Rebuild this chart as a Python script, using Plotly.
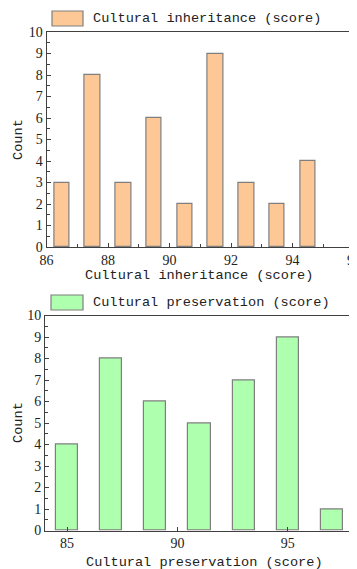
import plotly.graph_objects as go

# Data
inherit_centers = [86.5, 87.5, 88.5, 89.5, 90.5, 91.5, 92.5, 93.5, 94.5]
inherit_counts = [3, 8, 3, 6, 2, 9, 3, 2, 4]
preserve_centers = [85, 87, 89, 91, 93, 95, 97]
preserve_counts = [4, 8, 6, 5, 7, 9, 1]
inherit_label = "Cultural inheritance (score)"
preserve_label = "Cultural preservation (score)"

W, H = 357, 569
OFF = 8  # page body margin
MONO = "Liberation Mono"
SERIF = "Liberation Serif"

def px_x(v):
    return (v - OFF) / W

def px_y(v):
    return 1 - (v - OFF) / H

fig = go.Figure()
fig.add_trace(go.Bar(x=inherit_centers, y=inherit_counts, width=0.5,
                     marker=dict(color="#FDC896", line=dict(color="#7f7f7f", width=1.2)),
                     xaxis="x", yaxis="y", showlegend=False))
fig.add_trace(go.Bar(x=preserve_centers, y=preserve_counts, width=1.0,
                     marker=dict(color="#AEFFAE", line=dict(color="#7f7f7f", width=1.2)),
                     xaxis="x2", yaxis="y2", showlegend=False))

axis_common = dict(showline=True, mirror=True, linecolor="#404040", linewidth=1,
                   ticks="inside", tickcolor="#404040", ticklen=4, showgrid=False,
                   zeroline=False, automargin=False,
                   tickfont=dict(family=SERIF, size=14, color="#222"))

fig.update_layout(
    template="none",
    width=W, height=H,
    margin=dict(l=0, r=0, t=0, b=0, autoexpand=False),
    plot_bgcolor="white", paper_bgcolor="white",
    bargap=0,
    xaxis=dict(domain=[px_x(46.5), px_x(354)], range=[86, 96], dtick=2, tick0=86,
               minor=dict(ticks="inside", dtick=1, ticklen=3, tickcolor="#404040"),
               anchor="y", **axis_common),
    yaxis=dict(domain=[px_y(247), px_y(32)], range=[0, 10], dtick=1,
               minor=dict(ticks="inside", dtick=0.5, ticklen=3, tickcolor="#404040"),
               anchor="x", **axis_common),
    xaxis2=dict(domain=[px_x(45), px_x(354)], range=[84, 98], dtick=5, tick0=85,
                anchor="y2", **axis_common),
    yaxis2=dict(domain=[px_y(530.5), px_y(315.5)], range=[0, 10], dtick=1,
                minor=dict(ticks="inside", dtick=0.5, ticklen=3, tickcolor="#404040"),
                anchor="x2", **axis_common),
)

# Legend swatches
fig.add_shape(type="rect", xref="paper", yref="paper",
              x0=px_x(52), x1=px_x(83), y0=px_y(26), y1=px_y(11),
              fillcolor="#FDC896", line=dict(color="#7f7f7f", width=1.2))
fig.add_shape(type="rect", xref="paper", yref="paper",
              x0=px_x(51), x1=px_x(83), y0=px_y(310), y1=px_y(295),
              fillcolor="#AEFFAE", line=dict(color="#7f7f7f", width=1.2))

ann_font = dict(family=MONO, size=13.6, color="#222")
anns = [
    dict(text=inherit_label, x=px_x(91), y=px_y(18.5), xanchor="left", yanchor="middle"),
    dict(text=preserve_label, x=px_x(91), y=px_y(302.5), xanchor="left", yanchor="middle"),
    dict(text=inherit_label, x=px_x(199), y=px_y(275), xanchor="center", yanchor="middle"),
    dict(text=preserve_label, x=px_x(204), y=px_y(562), xanchor="center", yanchor="middle"),
    dict(text="Count", x=px_x(18), y=px_y(140), xanchor="center", yanchor="middle", textangle=-90),
    dict(text="Count", x=px_x(18), y=px_y(423), xanchor="center", yanchor="middle", textangle=-90),
]
for a in anns:
    fig.add_annotation(xref="paper", yref="paper", showarrow=False, font=ann_font, **a)

fig.write_html("out.html")
